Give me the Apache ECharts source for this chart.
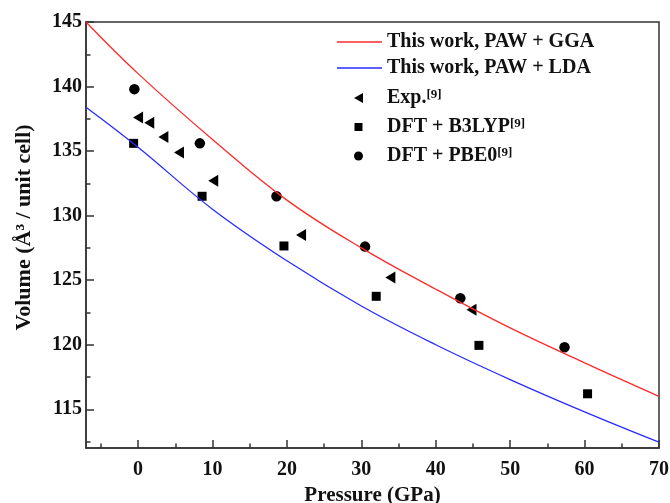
<!DOCTYPE html>
<html>
<head>
<meta charset="utf-8">
<script src="https://cdn.jsdelivr.net/npm/echarts@6/dist/echarts.min.js"></script>
<style>html,body{margin:0;padding:0;background:#fff;}#c{width:670px;height:503px;}</style>
</head>
<body>
<div id="c"></div>
<script>
// ---- data ----
const curveP = [-7, 0, 10, 20, 30, 40, 50, 60, 70];
const ggaV   = [145.0, 141.0, 135.9, 131.2, 127.5, 124.3, 121.3, 118.6, 116.0];
const ldaV   = [138.4, 135.3, 130.5, 126.5, 123.0, 120.0, 117.3, 114.8, 112.45];

const expP = [0.0, 1.5, 3.4, 5.5, 10.1, 21.9, 33.9, 44.8];
const expV = [137.6, 137.2, 136.1, 134.9, 132.7, 128.5, 125.2, 122.7];

const b3lypP = [-0.6, 8.6, 19.6, 32.0, 45.8, 60.4];
const b3lypV = [135.6, 131.5, 127.65, 123.75, 119.95, 116.2];

const pbe0P = [-0.5, 8.3, 18.6, 30.5, 43.3, 57.3];
const pbe0V = [139.8, 135.6, 131.5, 127.6, 123.6, 119.8];

const xMajorTicks = [0, 10, 20, 30, 40, 50, 60, 70];
const xMinorTicks = [-5, 5, 15, 25, 35, 45, 55, 65];
const yMajorTicks = [115, 120, 125, 130, 135, 140, 145];
const yMinorTicks = [112.5, 117.5, 122.5, 127.5, 132.5, 137.5, 142.5];

const seriesNames = ['This work, PAW + GGA', 'This work, PAW + LDA', 'Exp.', 'DFT + B3LYP', 'DFT + PBE0'];

// ---- chart ----
const zip = (a, b) => a.map((v, i) => [v, b[i]]);
const FONT = 'Liberation Serif';
const axisColor = '#333';
const triPath = 'path://M0,6 L10,0 L10,12 Z';
// legend icons: invisible corner points keep the mark centred inside a 45x11 box
const BOX = 'M0,0 L0,0 M45,11 L45,11 ';
const legTri = 'path://' + BOX + 'M17,5.5 L26,0.5 L26,10.5 Z';
const legSq = 'path://' + BOX + 'M17.5,1.5 L25.5,1.5 L25.5,9.5 L17.5,9.5 Z';
const legCirc = 'path://' + BOX + 'M17,5.5 A4.5,4.5 0 1,0 26,5.5 A4.5,4.5 0 1,0 17,5.5 Z';

const chart = echarts.init(document.getElementById('c'), null, {renderer: 'canvas'});

const baseX = {type: 'value', min: -7, max: 70, position: 'bottom', splitLine: {show: false}};
const baseY = {type: 'value', min: 112, max: 145, position: 'left', splitLine: {show: false}};

chart.setOption({
  backgroundColor: '#fff',
  animation: false,
  grid: {left: 86, right: 11, top: 22, bottom: 55, containLabel: false, outerBoundsMode: 'none',
         show: true, borderColor: axisColor, borderWidth: 1.5, backgroundColor: 'transparent'},
  xAxis: [
    Object.assign({}, baseX, {
      name: 'Pressure (GPa)', nameLocation: 'middle', nameGap: 29,
      nameTextStyle: {fontFamily: FONT, fontWeight: 'bold', fontSize: 21, color: '#111'},
      axisLine: {show: true, onZero: false, lineStyle: {color: axisColor, width: 1.5}},
      axisTick: {show: true, inside: true, length: 8, lineStyle: {color: axisColor, width: 1.5}, customValues: xMajorTicks},
      axisLabel: {show: true, margin: 12, fontFamily: FONT, fontWeight: 'bold', fontSize: 20, color: '#111', customValues: xMajorTicks}
    }),
    Object.assign({}, baseX, {
      axisLine: {show: false, onZero: false},
      axisTick: {show: true, inside: true, length: 4.5, lineStyle: {color: axisColor, width: 1.5}, customValues: xMinorTicks},
      axisLabel: {show: false}
    })
  ],
  yAxis: [
    Object.assign({}, baseY, {
      name: 'Volume (Å³ / unit cell)', nameLocation: 'middle', nameGap: 51, nameRotate: 90,
      nameTextStyle: {fontFamily: FONT, fontWeight: 'bold', fontSize: 22, color: '#111', padding: [0, 0, 0, 15]},
      axisLine: {show: true, onZero: false, lineStyle: {color: axisColor, width: 1.5}},
      axisTick: {show: true, inside: true, length: 8, lineStyle: {color: axisColor, width: 1.5}, customValues: yMajorTicks},
      axisLabel: {show: true, margin: 4, fontFamily: FONT, fontWeight: 'bold', fontSize: 20, color: '#111', customValues: yMajorTicks}
    }),
    Object.assign({}, baseY, {
      axisLine: {show: false, onZero: false},
      axisTick: {show: true, inside: true, length: 4.5, lineStyle: {color: axisColor, width: 1.5}, customValues: yMinorTicks},
      axisLabel: {show: false}
    })
  ],
  legend: [
    {
      orient: 'vertical', left: 337, top: 32, padding: 0, itemWidth: 45, itemHeight: 1.4, itemGap: 6,
      icon: 'rect',
      data: seriesNames.slice(0, 2),
      textStyle: {fontFamily: FONT, fontWeight: 'bold', fontSize: 20, color: '#111'}
    },
    {
      orient: 'vertical', left: 337, top: 88, padding: 0, itemWidth: 45, itemHeight: 11, itemGap: 9,
      data: [
        {name: seriesNames[2], icon: legTri},
        {name: seriesNames[3], icon: legSq},
        {name: seriesNames[4], icon: legCirc}
      ],
      formatter: name => '{t|' + name + '}{s|[9]}',
      textStyle: {
        fontFamily: FONT, fontWeight: 'bold', fontSize: 20, color: '#111',
        rich: {
          t: {fontFamily: FONT, fontWeight: 'bold', fontSize: 20, color: '#111'},
          s: {fontFamily: FONT, fontWeight: 'bold', fontSize: 13, color: '#111', verticalAlign: 'top'}
        }
      }
    }
  ],
  series: [
    {name: seriesNames[0], type: 'line', data: zip(curveP, ggaV), smooth: 0.4, symbol: 'none', showSymbol: false,
     lineStyle: {color: '#ff2a2a', width: 1.3}, itemStyle: {color: '#ff2a2a'}},
    {name: seriesNames[1], type: 'line', data: zip(curveP, ldaV), smooth: 0.4, symbol: 'none', showSymbol: false,
     lineStyle: {color: '#2a2aff', width: 1.3}, itemStyle: {color: '#2a2aff'}},
    {name: seriesNames[2], type: 'scatter', data: zip(expP, expV), symbol: triPath, symbolSize: [10, 12],
     itemStyle: {color: '#000', opacity: 1}},
    {name: seriesNames[3], type: 'scatter', data: zip(b3lypP, b3lypV), symbol: 'rect', symbolSize: 9,
     itemStyle: {color: '#000', opacity: 1}},
    {name: seriesNames[4], type: 'scatter', data: zip(pbe0P, pbe0V), symbol: 'circle', symbolSize: 10.5,
     itemStyle: {color: '#000', opacity: 1}}
  ]
});
</script>
</body>
</html>
